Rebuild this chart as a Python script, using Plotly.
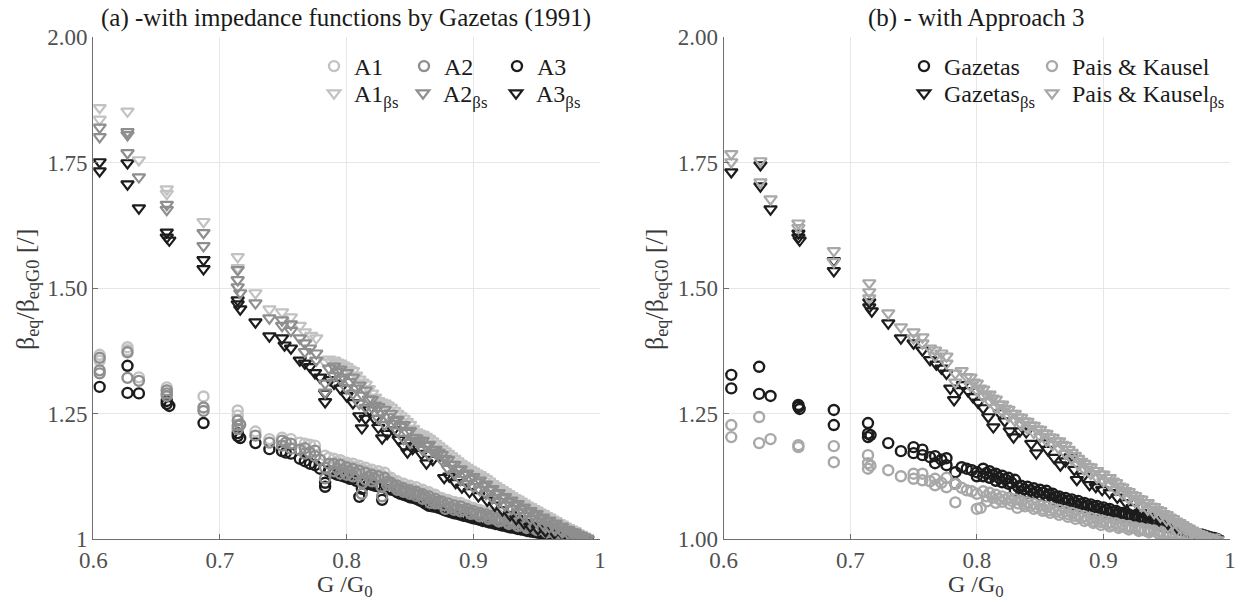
import plotly.graph_objects as go

# ---------------- data: (G/G0, beta_eq/beta_eqG0) ----------------
# Left panel (a) - circles
A1 = [(0.605,1.367),(0.605,1.355),(0.627,1.382),(0.627,1.376),(0.636,1.322),(0.658,1.302),(0.658,1.296),
      (0.687,1.284),(0.714,1.256),(0.714,1.246),(0.728,1.214),(0.739,1.199),(0.749,1.202),(0.756,1.199),
      (0.763,1.192),(0.767,1.190),(0.771,1.188),(0.775,1.186),(0.783,1.166),(0.786,1.162),
      (0.790,1.160),(0.795,1.157),(0.800,1.152),(0.805,1.150),(0.810,1.146),(0.815,1.142),(0.820,1.138),
      (0.825,1.135),(0.830,1.132),(0.835,1.122),(0.840,1.115),(0.845,1.110),(0.850,1.106),(0.855,1.103),
      (0.860,1.098),(0.865,1.093),(0.870,1.088),(0.875,1.082),(0.880,1.078),(0.885,1.074),(0.890,1.072),
      (0.895,1.067),(0.900,1.062),(0.905,1.058),(0.910,1.055),(0.915,1.052),(0.920,1.048),(0.925,1.044),
      (0.930,1.041),(0.935,1.038),(0.940,1.035),(0.945,1.032),(0.950,1.028),(0.955,1.025),(0.960,1.021),
      (0.965,1.018),(0.970,1.014),(0.975,1.010),(0.980,1.007),(0.985,1.004),(0.990,1.001),
      (0.7925,1.154),(0.7975,1.150),(0.8025,1.146),(0.8075,1.143),(0.8125,1.139),(0.8175,1.135),(0.8225,1.131),
      (0.8275,1.128),(0.8325,1.122),(0.8375,1.114),(0.8425,1.108),(0.8475,1.104),(0.8525,1.100),(0.8575,1.096),
      (0.8625,1.092),(0.8675,1.087),(0.8725,1.082),(0.8775,1.077),(0.8825,1.073),(0.8875,1.070),(0.8925,1.066),
      (0.8975,1.062),(0.9025,1.058),(0.9075,1.054),(0.9125,1.051),(0.9175,1.048),(0.9225,1.044),(0.9275,1.041),
      (0.9325,1.038),(0.9375,1.035),(0.9425,1.032),(0.9475,1.029),(0.9525,1.026),(0.9575,1.022),(0.9625,1.019),
      (0.9675,1.016),(0.9725,1.012),(0.9775,1.008),(0.9825,1.005),(0.9875,1.002)]
A2 = [(0.605,1.361),(0.605,1.336),(0.605,1.330),(0.627,1.372),(0.627,1.321),(0.636,1.315),(0.658,1.296),
      (0.658,1.290),(0.658,1.285),(0.687,1.262),(0.687,1.255),(0.714,1.236),(0.714,1.226),(0.714,1.219),
      (0.716,1.228),(0.728,1.206),(0.739,1.192),(0.749,1.196),(0.749,1.186),(0.752,1.192),(0.756,1.190),
      (0.756,1.180),(0.763,1.178),(0.767,1.181),(0.767,1.170),(0.771,1.172),(0.775,1.176),(0.775,1.165),
      (0.779,1.158),(0.783,1.142),(0.783,1.121),(0.786,1.150),
      (0.790,1.150),(0.795,1.148),(0.800,1.143),(0.805,1.140),(0.810,1.136),(0.815,1.132),(0.820,1.128),
      (0.825,1.125),(0.830,1.122),(0.835,1.112),(0.840,1.106),(0.845,1.101),(0.850,1.097),(0.855,1.094),
      (0.860,1.089),(0.865,1.085),(0.870,1.080),(0.875,1.075),(0.880,1.071),(0.885,1.067),(0.890,1.065),
      (0.895,1.060),(0.900,1.056),(0.905,1.052),(0.910,1.049),(0.915,1.046),(0.920,1.042),(0.925,1.039),
      (0.930,1.036),(0.935,1.033),(0.940,1.030),(0.945,1.027),(0.950,1.024),(0.955,1.021),(0.960,1.018),
      (0.965,1.015),(0.970,1.012),(0.975,1.008),(0.980,1.005),(0.985,1.003),(0.990,1.000),
      (0.790,1.135),(0.795,1.130),(0.800,1.128),(0.805,1.125),(0.812,1.090),(0.815,1.118),(0.820,1.115),
      (0.828,1.085),(0.832,1.108),(0.840,1.098),(0.845,1.094),(0.850,1.090),(0.855,1.086),(0.860,1.080),
      (0.866,1.072),(0.870,1.071),(0.878,1.060),(0.885,1.058),(0.890,1.055),(0.898,1.050),(0.905,1.045),
      (0.912,1.040),(0.920,1.035),(0.928,1.030),(0.935,1.026),(0.942,1.022),(0.950,1.018),(0.958,1.013),
      (0.965,1.010),(0.972,1.006),(0.980,1.003),(0.987,1.000),
      (0.7925,1.140),(0.7975,1.137),(0.8025,1.134),(0.8075,1.131),(0.8125,1.112),(0.8175,1.124),(0.8225,1.120),
      (0.8275,1.104),(0.8325,1.114),(0.8375,1.104),(0.8425,1.099),(0.8475,1.095),(0.8525,1.092),(0.8575,1.088),
      (0.8625,1.083),(0.8675,1.077),(0.8725,1.074),(0.8775,1.067),(0.8825,1.063),(0.8875,1.060),(0.8925,1.058),
      (0.8975,1.054),(0.9025,1.050),(0.9075,1.047),(0.9125,1.044),(0.9175,1.040),(0.9225,1.037),(0.9275,1.034),
      (0.9325,1.031),(0.9375,1.028),(0.9425,1.025),(0.9475,1.022),(0.9525,1.020),(0.9575,1.017),(0.9625,1.014),
      (0.9675,1.011),(0.9725,1.008),(0.9775,1.005),(0.9825,1.003),(0.9875,1.001)]
A3 = [(0.605,1.303),(0.627,1.345),(0.627,1.291),(0.636,1.290),(0.658,1.275),(0.658,1.269),(0.660,1.265),
      (0.687,1.231),(0.714,1.211),(0.714,1.205),(0.716,1.201),(0.728,1.191),(0.739,1.179),(0.749,1.175),
      (0.752,1.172),(0.756,1.170),(0.763,1.160),(0.767,1.155),(0.771,1.150),(0.775,1.147),(0.779,1.140),
      (0.783,1.104),(0.783,1.112),(0.786,1.135),
      (0.790,1.131),(0.795,1.127),(0.800,1.123),(0.805,1.120),(0.810,1.084),(0.812,1.100),(0.815,1.112),
      (0.820,1.108),(0.825,1.105),(0.828,1.078),(0.832,1.100),(0.836,1.098),(0.840,1.093),(0.845,1.088),
      (0.850,1.083),(0.855,1.080),(0.860,1.074),(0.865,1.066),(0.870,1.064),(0.875,1.060),(0.880,1.055),
      (0.885,1.051),(0.890,1.048),(0.895,1.045),(0.900,1.041),(0.905,1.038),(0.910,1.035),(0.915,1.032),
      (0.920,1.029),(0.925,1.026),(0.930,1.023),(0.935,1.020),(0.940,1.018),(0.945,1.015),(0.950,1.013),
      (0.955,1.011),(0.960,1.009),(0.965,1.007),(0.970,1.005),(0.975,1.003),(0.980,1.002),(0.985,1.000),
      (0.990,0.999),
      (0.7925,1.128),(0.7975,1.125),(0.8025,1.120),(0.8075,1.116),(0.8175,1.110),(0.8225,1.106),(0.8345,1.099),
      (0.8425,1.090),(0.8475,1.086),(0.8525,1.082),(0.8575,1.077),(0.8625,1.070),(0.8675,1.065),(0.8725,1.062),
      (0.8775,1.057),(0.8825,1.053),(0.8875,1.050),(0.8925,1.046),(0.8975,1.043),(0.9025,1.040),(0.9075,1.036),
      (0.9125,1.033),(0.9175,1.030),(0.9225,1.027),(0.9275,1.024),(0.9325,1.022),(0.9375,1.019),(0.9425,1.016),
      (0.9475,1.014),(0.9525,1.012),(0.9575,1.010),(0.9625,1.008),(0.9675,1.006),(0.9725,1.004),(0.9775,1.002)]
# Left panel (a) - triangles (beta_s)
A1BS = [(0.605,1.859),(0.605,1.836),(0.627,1.852),(0.636,1.755),(0.658,1.697),(0.658,1.688),(0.687,1.632),
        (0.714,1.562),(0.714,1.540),(0.728,1.490),(0.739,1.458),(0.749,1.452),(0.756,1.442),(0.763,1.425),
        (0.767,1.412),(0.772,1.405),(0.776,1.400),(0.783,1.352),(0.786,1.358),
        (0.790,1.356),(0.795,1.350),(0.800,1.343),(0.805,1.335),(0.810,1.318),(0.815,1.308),(0.820,1.290),
        (0.825,1.275),(0.830,1.270),(0.835,1.262),(0.840,1.250),(0.845,1.240),(0.850,1.228),(0.855,1.213),
        (0.860,1.208),(0.865,1.200),(0.870,1.190),(0.875,1.180),(0.880,1.170),(0.885,1.160),(0.890,1.150),
        (0.895,1.142),(0.900,1.135),(0.905,1.128),(0.910,1.120),(0.915,1.110),(0.920,1.102),(0.925,1.094),
        (0.930,1.086),(0.935,1.079),(0.940,1.071),(0.945,1.064),(0.950,1.057),(0.955,1.050),(0.960,1.043),
        (0.965,1.036),(0.970,1.029),(0.975,1.022),(0.980,1.016),(0.985,1.009),(0.990,1.002),
        (0.7925,1.352),(0.7975,1.346),(0.8025,1.338),(0.8075,1.326),(0.8125,1.312),(0.8175,1.299),(0.8225,1.282),
        (0.8275,1.272),(0.8325,1.266),(0.8375,1.256),(0.8425,1.245),(0.8475,1.234),(0.8525,1.220),(0.8575,1.210),
        (0.8625,1.204),(0.8675,1.195),(0.8725,1.185),(0.8775,1.175),(0.8825,1.165),(0.8875,1.155),(0.8925,1.146),
        (0.8975,1.138),(0.9025,1.131),(0.9075,1.124),(0.9125,1.115),(0.9175,1.106),(0.9225,1.098),(0.9275,1.090),
        (0.9325,1.082),(0.9375,1.075),(0.9425,1.067),(0.9475,1.060),(0.9525,1.053),(0.9575,1.046),(0.9625,1.039),
        (0.9675,1.032),(0.9725,1.025),(0.9775,1.019),(0.9825,1.012),(0.9875,1.005)]
A2BS = [(0.605,1.820),(0.605,1.801),(0.627,1.811),(0.627,1.805),(0.627,1.769),(0.636,1.721),(0.658,1.666),
        (0.658,1.656),(0.687,1.610),(0.687,1.584),(0.714,1.536),(0.714,1.516),(0.714,1.502),(0.716,1.490),
        (0.728,1.470),(0.739,1.440),(0.749,1.436),(0.749,1.425),(0.756,1.428),(0.756,1.415),(0.763,1.400),
        (0.767,1.390),(0.767,1.373),(0.771,1.380),(0.776,1.370),(0.776,1.356),(0.783,1.310),(0.783,1.292),
        (0.786,1.340),
        (0.790,1.344),(0.795,1.338),(0.800,1.331),(0.805,1.322),(0.810,1.306),(0.815,1.296),(0.820,1.278),
        (0.825,1.263),(0.830,1.258),(0.835,1.250),(0.840,1.238),(0.845,1.228),(0.850,1.216),(0.855,1.201),
        (0.860,1.196),(0.865,1.188),(0.870,1.178),(0.875,1.168),(0.880,1.158),(0.885,1.148),(0.890,1.139),
        (0.895,1.131),(0.900,1.124),(0.905,1.117),(0.910,1.109),(0.915,1.100),(0.920,1.092),(0.925,1.084),
        (0.930,1.077),(0.935,1.070),(0.940,1.063),(0.945,1.056),(0.950,1.050),(0.955,1.043),(0.960,1.037),
        (0.965,1.031),(0.970,1.025),(0.975,1.018),(0.980,1.013),(0.985,1.007),(0.990,1.001),
        (0.790,1.325),(0.795,1.318),(0.800,1.300),(0.805,1.290),(0.810,1.270),(0.815,1.262),(0.820,1.262),
        (0.825,1.240),(0.830,1.228),(0.835,1.230),(0.840,1.215),(0.845,1.200),(0.850,1.192),(0.855,1.195),
        (0.860,1.178),(0.865,1.168),(0.870,1.172),(0.875,1.158),(0.880,1.140),(0.885,1.130),(0.890,1.118),
        (0.895,1.110),(0.900,1.104),(0.905,1.098),(0.910,1.090),(0.915,1.082),(0.920,1.074),(0.925,1.067),
        (0.930,1.060),(0.935,1.053),(0.940,1.046),(0.945,1.040),(0.950,1.034),(0.955,1.029),(0.960,1.024),
        (0.965,1.019),(0.970,1.014),(0.975,1.010),(0.980,1.006),(0.985,1.003),(0.990,1.000),
        (0.7925,1.333),(0.7975,1.322),(0.8025,1.313),(0.8075,1.300),(0.8125,1.286),(0.8175,1.278),(0.8225,1.266),
        (0.8275,1.250),(0.8325,1.243),(0.8375,1.236),(0.8425,1.224),(0.8475,1.212),(0.8525,1.202),(0.8575,1.196),
        (0.8625,1.186),(0.8675,1.177),(0.8725,1.172),(0.8775,1.160),(0.8825,1.148),(0.8875,1.138),(0.8925,1.128),
        (0.8975,1.120),(0.9025,1.113),(0.9075,1.106),(0.9125,1.098),(0.9175,1.090),(0.9225,1.082),(0.9275,1.074),
        (0.9325,1.067),(0.9375,1.060),(0.9425,1.053),(0.9475,1.047),(0.9525,1.041),(0.9575,1.035),(0.9625,1.029),
        (0.9675,1.024),(0.9725,1.019),(0.9775,1.014),(0.9825,1.009),(0.9875,1.004)]
A3BS = [(0.605,1.751),(0.605,1.733),(0.627,1.749),(0.627,1.707),(0.636,1.659),(0.658,1.611),(0.658,1.601),
        (0.660,1.595),(0.687,1.556),(0.687,1.538),(0.714,1.476),(0.714,1.468),(0.716,1.458),(0.728,1.432),
        (0.739,1.404),(0.749,1.400),(0.751,1.386),(0.756,1.380),(0.763,1.356),(0.767,1.350),(0.771,1.343),
        (0.775,1.331),(0.779,1.322),(0.783,1.290),(0.783,1.273),(0.787,1.317),
        (0.790,1.310),(0.795,1.300),(0.800,1.285),(0.805,1.271),(0.810,1.245),(0.812,1.221),(0.815,1.240),
        (0.818,1.257),(0.822,1.240),(0.825,1.222),(0.828,1.201),(0.832,1.210),(0.837,1.217),(0.841,1.198),
        (0.845,1.185),(0.848,1.173),(0.852,1.180),(0.855,1.187),(0.859,1.170),(0.863,1.151),(0.868,1.158),
        (0.873,1.165),(0.877,1.122),(0.881,1.125),(0.886,1.112),(0.891,1.103),(0.897,1.094),(0.904,1.086),
        (0.911,1.077),(0.917,1.067),(0.923,1.058),(0.929,1.048),(0.934,1.040),(0.940,1.032),(0.945,1.025),
        (0.951,1.020),(0.957,1.016),(0.964,1.012),(0.971,1.008),(0.978,1.004),(0.985,1.001),(0.990,0.999)]

# Right panel (b) - circles
GZ = [(0.606,1.327),(0.606,1.300),(0.628,1.343),(0.628,1.289),(0.637,1.285),(0.659,1.267),(0.659,1.263),
      (0.660,1.259),(0.687,1.257),(0.687,1.227),(0.714,1.231),(0.714,1.210),(0.714,1.203),(0.716,1.207),
      (0.730,1.191),(0.740,1.175),(0.750,1.183),(0.750,1.171),(0.757,1.178),(0.757,1.167),(0.763,1.163),
      (0.767,1.165),(0.767,1.151),(0.772,1.158),(0.776,1.161),(0.776,1.147),(0.783,1.133),(0.783,1.110),
      (0.788,1.143),(0.792,1.140),(0.796,1.137),(0.800,1.133),(0.800,1.125),
      (0.805,1.140),(0.810,1.135),(0.815,1.130),(0.820,1.126),(0.825,1.122),(0.830,1.118),(0.835,1.106),
      (0.840,1.104),(0.845,1.101),(0.850,1.098),(0.855,1.096),(0.860,1.090),(0.865,1.085),(0.870,1.082),
      (0.875,1.079),(0.880,1.076),(0.885,1.072),(0.890,1.069),(0.895,1.066),(0.900,1.063),(0.905,1.060),
      (0.910,1.056),(0.915,1.052),(0.920,1.049),(0.925,1.046),(0.930,1.043),(0.935,1.040),(0.940,1.036),
      (0.945,1.033),(0.950,1.030),(0.955,1.026),(0.960,1.022),(0.965,1.018),(0.970,1.014),(0.975,1.010),
      (0.980,1.007),(0.985,1.003),(0.990,1.000),
      (0.805,1.125),(0.810,1.122),(0.815,1.116),(0.820,1.113),(0.825,1.110),(0.830,1.097),(0.835,1.095),
      (0.840,1.092),(0.845,1.090),(0.850,1.087),(0.855,1.084),(0.860,1.079),(0.865,1.075),(0.870,1.072),
      (0.875,1.069),(0.880,1.066),(0.885,1.063),(0.890,1.060),(0.895,1.057),(0.900,1.054),(0.905,1.051),
      (0.910,1.048),(0.915,1.045),(0.920,1.042),(0.925,1.039),(0.930,1.036),(0.935,1.033),(0.940,1.030),
      (0.945,1.027),(0.950,1.024),(0.955,1.021),(0.960,1.018),(0.965,1.015),(0.970,1.011),(0.975,1.008),
      (0.980,1.005),(0.985,1.002),
      (0.8075,1.131),(0.8125,1.128),(0.8175,1.122),(0.8225,1.119),(0.8275,1.112),(0.8325,1.104),(0.8375,1.099),
      (0.8425,1.097),(0.8475,1.094),(0.8525,1.092),(0.8575,1.089),(0.8625,1.084),(0.8675,1.079),(0.8725,1.077),
      (0.8775,1.073),(0.8825,1.070),(0.8875,1.067),(0.8925,1.064),(0.8975,1.061),(0.9025,1.058),(0.9075,1.055),
      (0.9125,1.052),(0.9175,1.048),(0.9225,1.045),(0.9275,1.042),(0.9325,1.039),(0.9375,1.035),(0.9425,1.032),
      (0.9475,1.029),(0.9525,1.026),(0.9575,1.023),(0.9625,1.019),(0.9675,1.016),(0.9725,1.012),(0.9775,1.009),
      (0.9825,1.005),(0.9875,1.002)]
PK = [(0.606,1.227),(0.606,1.203),(0.628,1.243),(0.628,1.191),(0.637,1.199),(0.659,1.187),(0.659,1.183),
      (0.687,1.185),(0.687,1.153),(0.714,1.167),(0.714,1.151),(0.714,1.140),(0.716,1.146),(0.730,1.137),
      (0.740,1.125),(0.750,1.130),(0.750,1.120),(0.757,1.130),(0.757,1.117),(0.763,1.115),(0.767,1.120),
      (0.767,1.107),(0.772,1.112),(0.776,1.122),(0.776,1.103),(0.783,1.110),(0.783,1.073),(0.788,1.102),
      (0.792,1.097),(0.796,1.095),(0.800,1.090),(0.800,1.060),
      (0.805,1.095),(0.810,1.092),(0.815,1.088),(0.820,1.085),(0.825,1.082),(0.830,1.079),(0.835,1.076),
      (0.840,1.073),(0.845,1.070),(0.850,1.067),(0.855,1.064),(0.860,1.061),(0.865,1.058),(0.870,1.055),
      (0.875,1.052),(0.880,1.048),(0.885,1.045),(0.890,1.042),(0.895,1.039),(0.900,1.036),(0.905,1.033),
      (0.910,1.031),(0.915,1.028),(0.920,1.026),(0.925,1.023),(0.930,1.021),(0.935,1.019),(0.940,1.017),
      (0.945,1.015),(0.950,1.013),(0.955,1.011),(0.960,1.009),(0.965,1.007),(0.970,1.005),(0.975,1.004),
      (0.980,1.002),(0.985,1.000),(0.990,0.999),
      (0.803,1.062),(0.808,1.075),(0.815,1.072),(0.820,1.074),(0.826,1.070),(0.832,1.062),(0.838,1.065),
      (0.845,1.060),(0.852,1.056),(0.858,1.052),(0.865,1.048),(0.872,1.044),(0.878,1.040),(0.885,1.036),
      (0.892,1.032),(0.898,1.028),(0.905,1.025),(0.912,1.022),(0.920,1.019),(0.928,1.016),(0.936,1.013),
      (0.944,1.010),(0.952,1.008),(0.960,1.005),(0.968,1.003),(0.976,1.001),
      (0.8075,1.085),(0.8125,1.082),(0.8175,1.080),(0.8225,1.079),(0.8275,1.076),(0.8325,1.071),(0.8375,1.070),
      (0.8425,1.066),(0.8475,1.063),(0.8525,1.060),(0.8575,1.057),(0.8625,1.054),(0.8675,1.052),(0.8725,1.049),
      (0.8775,1.046),(0.8825,1.042),(0.8875,1.039),(0.8925,1.036),(0.8975,1.034),(0.9025,1.030),(0.9075,1.028),
      (0.9125,1.026),(0.9175,1.023),(0.9225,1.022),(0.9275,1.019),(0.9325,1.017),(0.9375,1.016),(0.9425,1.013),
      (0.9475,1.012),(0.9525,1.010),(0.9575,1.008),(0.9625,1.006),(0.9675,1.004),(0.9725,1.003),(0.9775,1.002),
      (0.9825,1.000)]
# Right panel (b) - triangles (beta_s)
GZBS = [(0.606,1.731),(0.629,1.745),(0.629,1.703),(0.637,1.657),(0.659,1.609),(0.659,1.601),(0.660,1.595),
        (0.687,1.554),(0.687,1.534),(0.715,1.472),(0.715,1.462),(0.717,1.454),(0.730,1.430),(0.740,1.400),
        (0.750,1.390),(0.757,1.376),
        (0.763,1.357),(0.768,1.348),(0.772,1.340),(0.776,1.330),(0.779,1.300),(0.782,1.277),(0.786,1.295),
        (0.789,1.307),(0.793,1.295),(0.797,1.283),(0.801,1.272),(0.805,1.261),(0.809,1.243),(0.813,1.223),
        (0.818,1.251),(0.822,1.235),(0.826,1.215),(0.829,1.203),(0.834,1.215),(0.839,1.213),(0.843,1.190),
        (0.847,1.171),(0.852,1.191),(0.856,1.178),(0.861,1.162),(0.866,1.147),(0.870,1.155),(0.874,1.163),
        (0.877,1.138),(0.879,1.118),(0.884,1.125),(0.889,1.108),(0.894,1.104),(0.899,1.098),(0.905,1.092),
        (0.911,1.083),(0.918,1.072),(0.923,1.062),(0.929,1.052),(0.936,1.045),(0.944,1.038),(0.951,1.031),
        (0.958,1.024),(0.965,1.018),(0.973,1.012),(0.981,1.006),(0.990,1.000)]
PKBS = [(0.606,1.767),(0.606,1.751),(0.629,1.753),(0.629,1.711),(0.637,1.677),(0.659,1.629),(0.659,1.620),
        (0.687,1.574),(0.687,1.552),(0.715,1.510),(0.715,1.492),(0.715,1.480),(0.730,1.450),(0.740,1.422),
        (0.750,1.412),(0.750,1.400),(0.757,1.402),(0.757,1.390),(0.763,1.380),(0.767,1.376),(0.767,1.364),
        (0.772,1.370),(0.776,1.364),(0.776,1.350),(0.783,1.330),(0.783,1.312),(0.788,1.335),(0.792,1.323),
        (0.795,1.322),(0.800,1.310),(0.805,1.298),(0.810,1.288),(0.815,1.278),(0.820,1.268),(0.825,1.258),
        (0.830,1.250),(0.835,1.242),(0.840,1.234),(0.845,1.226),(0.850,1.218),(0.855,1.210),(0.860,1.202),
        (0.865,1.195),(0.870,1.186),(0.875,1.172),(0.880,1.160),(0.885,1.150),(0.890,1.143),(0.895,1.136),
        (0.900,1.129),(0.905,1.122),(0.910,1.112),(0.915,1.103),(0.920,1.094),(0.925,1.086),(0.930,1.079),
        (0.935,1.072),(0.940,1.064),(0.945,1.056),(0.950,1.048),(0.955,1.040),(0.960,1.032),(0.965,1.024),
        (0.970,1.017),(0.975,1.011),(0.980,1.006),(0.985,1.002),(0.990,0.998),
        (0.795,1.305),(0.800,1.296),(0.805,1.284),(0.810,1.274),(0.815,1.262),(0.820,1.254),(0.825,1.244),
        (0.830,1.236),(0.835,1.228),(0.840,1.220),(0.845,1.212),(0.850,1.204),(0.855,1.196),(0.860,1.188),
        (0.865,1.180),(0.870,1.170),(0.875,1.160),(0.880,1.148),(0.885,1.138),(0.890,1.130),(0.895,1.122),
        (0.900,1.115),(0.905,1.108),(0.910,1.098),(0.915,1.090),(0.920,1.081),(0.925,1.074),(0.930,1.066),
        (0.935,1.059),(0.940,1.052),(0.945,1.045),(0.950,1.038),(0.955,1.031),(0.960,1.024),(0.965,1.018),
        (0.970,1.012),(0.975,1.007),(0.980,1.003),(0.985,1.000),
        (0.7975,1.312),(0.8025,1.300),(0.8075,1.288),(0.8125,1.280),(0.8175,1.268),(0.8225,1.260),(0.8275,1.250),
        (0.8325,1.243),(0.8375,1.235),(0.8425,1.227),(0.8475,1.219),(0.8525,1.211),(0.8575,1.203),(0.8625,1.195),
        (0.8675,1.188),(0.8725,1.178),(0.8775,1.166),(0.8825,1.154),(0.8875,1.144),(0.8925,1.136),(0.8975,1.129),
        (0.9025,1.122),(0.9075,1.115),(0.9125,1.105),(0.9175,1.096),(0.9225,1.088),(0.9275,1.080),(0.9325,1.072),
        (0.9375,1.065),(0.9425,1.058),(0.9475,1.050),(0.9525,1.043),(0.9575,1.035),(0.9625,1.028),(0.9675,1.021),
        (0.9725,1.014),(0.9775,1.009),(0.9825,1.004),(0.9875,1.000)]

X_TICKS = [0.6, 0.7, 0.8, 0.9, 1.0]
X_TEXT = ["0.6", "0.7", "0.8", "0.9", "1"]
Y_TICKS = [1.0, 1.25, 1.5, 1.75, 2.0]
Y_TEXT_A = ["1", "1.25", "1.50", "1.75", "2.00"]
Y_TEXT_B = ["1.00", "1.25", "1.50", "1.75", "2.00"]

# ---------------- styling ----------------
FONT = "Liberation Serif"
LIGHT = "#c2c2c2"
MID = "#8e8e8e"
DARK = "#1c1c1c"
PKC = "#a8a8a8"
W, H = 1240, 606

def px(v): return v / W
def py(v): return (H - v) / H

fig = go.Figure()

def add(pts, name, sym, color, xa, ya, legend, size, lw):
    fig.add_trace(go.Scatter(
        x=[p[0] for p in pts], y=[p[1] for p in pts], mode="markers", name=name,
        marker=dict(symbol=sym, size=size, color=color, line=dict(color=color, width=lw)),
        xaxis=xa, yaxis=ya, legend=legend, hoverinfo="x+y"))

# drawing order: darkest series underneath, grey series on top (legends are separate boxes)
add(A3, "A3", "circle-open", DARK, "x", "y", "legend3", 10, 2.4)
add(A1, "A1", "circle-open", LIGHT, "x", "y", "legend", 10, 2.4)
add(A2, "A2", "circle-open", MID, "x", "y", "legend2", 10, 2.4)
add(A3BS, "A3<sub>βs</sub>", "triangle-down-open", DARK, "x", "y", "legend6", 11, 2.2)
add(A1BS, "A1<sub>βs</sub>", "triangle-down-open", LIGHT, "x", "y", "legend4", 11, 2.2)
add(A2BS, "A2<sub>βs</sub>", "triangle-down-open", MID, "x", "y", "legend5", 11, 2.2)

add(GZ, "Gazetas", "circle-open", DARK, "x2", "y2", "legend7", 10, 2.4)
add(PK, "Pais &amp; Kausel", "circle-open", PKC, "x2", "y2", "legend8", 10, 2.4)
add(GZBS, "Gazetas<sub>βs</sub>", "triangle-down-open", DARK, "x2", "y2", "legend9", 11, 2.2)
add(PKBS, "Pais &amp; Kausel<sub>βs</sub>", "triangle-down-open", PKC, "x2", "y2", "legend10", 11, 2.2)

axis_common = dict(showline=True, linecolor="#6e6e6e", linewidth=1.2, ticks="inside", ticklen=5,
                   tickcolor="#6e6e6e", showgrid=True, gridcolor="#e6e6e6", gridwidth=1,
                   zeroline=False, tickfont=dict(family=FONT, size=23, color="#505050"), mirror=False)
ydom = [py(539), py(37)]
fig.update_layout(
    width=W, height=H, margin=dict(l=0, r=0, t=0, b=0, autoexpand=False),
    paper_bgcolor="white", plot_bgcolor="white", font=dict(family=FONT, color="#1a1a1a"),
    xaxis=dict(domain=[px(93.3), px(600)], range=[0.6, 1.0], tickvals=X_TICKS, ticktext=X_TEXT,
               anchor="y", **axis_common),
    yaxis=dict(domain=ydom, range=[1.0, 2.0], tickvals=Y_TICKS, ticktext=Y_TEXT_A, anchor="x",
               **axis_common),
    xaxis2=dict(domain=[px(723.7), px(1230)], range=[0.6, 1.0], tickvals=X_TICKS, ticktext=X_TEXT,
                anchor="y2", **axis_common),
    yaxis2=dict(domain=ydom, range=[1.0, 2.0], tickvals=Y_TICKS, ticktext=Y_TEXT_B, anchor="x2",
                **axis_common),
    showlegend=True,
)

leg_common = dict(orientation="v", bgcolor="rgba(0,0,0,0)", borderwidth=0, xanchor="left",
                  yanchor="top", font=dict(family=FONT, size=24, color="#1a1a1a"),
                  itemclick=False, itemdoubleclick=False)
LEG_POS = {"legend": (314, 44), "legend2": (404, 44), "legend3": (497, 44),
           "legend4": (314, 71), "legend5": (403, 71), "legend6": (496, 71),
           "legend7": (904, 44), "legend8": (1032, 44),
           "legend9": (904, 71), "legend10": (1032, 71)}
fig.update_layout(**{k: dict(x=px(v[0]), y=py(v[1]), **leg_common) for k, v in LEG_POS.items()})

ann = []
ann.append(dict(text="(a) -with impedance functions by Gazetas (1991)", x=px(346), y=py(18),
                xref="paper", yref="paper", showarrow=False, xanchor="center", yanchor="middle",
                font=dict(family=FONT, size=25, color="#1a1a1a")))
ann.append(dict(text="(b) - with Approach 3", x=px(976), y=py(18),
                xref="paper", yref="paper", showarrow=False, xanchor="center", yanchor="middle",
                font=dict(family=FONT, size=25, color="#1a1a1a")))
for xc in (27, 656):
    ann.append(dict(text="β<sub>eq</sub>/β<sub>eqG0</sub> [/]", x=px(xc), y=py(290), textangle=-90,
                    xref="paper", yref="paper", showarrow=False, xanchor="center", yanchor="middle",
                    font=dict(family=FONT, size=26, color="#3a3a3a")))
for xc in (345, 976):
    ann.append(dict(text="G /G<sub>0</sub>", x=px(xc), y=py(586),
                    xref="paper", yref="paper", showarrow=False, xanchor="center", yanchor="middle",
                    font=dict(family=FONT, size=24, color="#3a3a3a")))
fig.update_layout(annotations=ann)

fig.write_html("out.html")
